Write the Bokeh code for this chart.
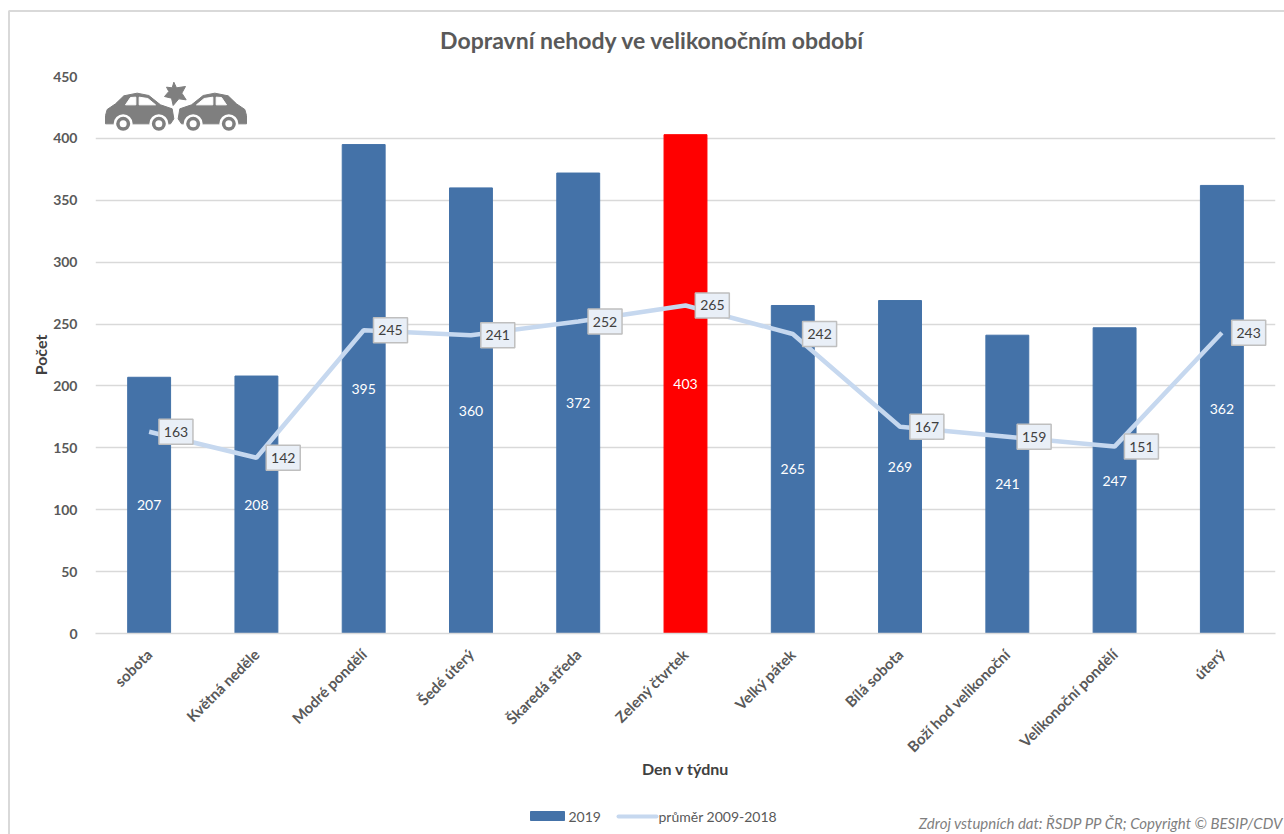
from bokeh.plotting import figure
from bokeh.embed import file_html
from bokeh.resources import INLINE
from bokeh.core.properties import value
from bokeh.models import ColumnDataSource, Range1d

days = ["sobota", "Květná neděle", "Modré pondělí", "Šedé úterý", "Škaredá středa", "Zelený čtvrtek",
        "Velký pátek", "Bílá sobota", "Boží hod velikonoční", "Velikonoční pondělí", "úterý"]
counts_2019 = [207, 208, 395, 360, 372, 403, 265, 269, 241, 247, 362]
average_2009_2018 = [163, 142, 245, 241, 252, 265, 242, 167, 159, 151, 243]
y_ticks = [0, 50, 100, 150, 200, 250, 300, 350, 400, 450]
highlight_day = "Zelený čtvrtek"

FONT = "Lato"
BLUE = "#4472A8"
RED = "#FF0000"
LINE = "#C6D8EF"
GREY = "#D9D9D9"
TEXT = "#595959"
ICON = "#7F7F7F"

positions = [i + 0.5 for i in range(len(days))]

p = figure(width=1284, height=834, output_backend="svg", toolbar_location=None,
           x_range=Range1d(0, len(days)), y_range=Range1d(0, 450),
           min_border_left=95, min_border_right=9, min_border_top=76, min_border_bottom=201)
p.extra_x_ranges["px"] = Range1d(95, 1275)
p.extra_y_ranges["px"] = Range1d(633, 76)
p.outline_line_color = None

src = ColumnDataSource(dict(
    x=positions, box_x=[x + 0.25 for x in positions], count=counts_2019, avg=average_2009_2018,
    mid=[v / 2 for v in counts_2019],
    color=[RED if d == highlight_day else BLUE for d in days],
    count_txt=[str(v) for v in counts_2019], avg_txt=[str(v) for v in average_2009_2018]))

# axes and grid
p.xgrid.grid_line_color = None
p.ygrid.grid_line_color = GREY
p.ygrid.grid_line_width = 1.5
p.yaxis.ticker = y_ticks
p.yaxis.axis_line_color = None
p.yaxis.major_tick_line_color = None
p.yaxis.minor_tick_line_color = None
p.yaxis.major_label_standoff = 12
p.yaxis.axis_label = "Počet"
p.yaxis.axis_label_standoff = 0
p.xaxis.ticker = positions
p.xaxis.major_label_overrides = dict(zip(positions, days))
p.xaxis.axis_line_color = GREY
p.xaxis.axis_line_width = 1.5
p.xaxis.major_tick_line_color = None
p.xaxis.minor_tick_line_color = None
p.xaxis.major_label_orientation = 0.785
p.xaxis.major_label_standoff = 12
p.xaxis.axis_label = "Den v týdnu"
p.xaxis.axis_label_standoff = -6
for ax in (p.xaxis, p.yaxis):
    ax.major_label_text_font = FONT
    ax.major_label_text_font_style = "bold"
    ax.major_label_text_font_size = "15px"
    ax.major_label_text_color = TEXT
    ax.axis_label_text_font = FONT
    ax.axis_label_text_font_style = "bold"
    ax.axis_label_text_font_size = "16px"
    ax.axis_label_text_color = "#404040"
p.yaxis.major_label_text_font_size = "14px"

# bars, line, labels
bars = p.vbar(x="x", top="count", width=0.4, color="color", source=src)
avg_line = p.line(x="x", y="avg", line_color=LINE, line_width=4.5, source=src)
p.text(x="x", y="mid", text="count_txt", text_color="white", text_align="center", text_baseline="middle",
       text_font=value(FONT), text_font_size="14px", source=src)
p.rect(x="box_x", y="avg", width=34, height=25, width_units="screen", height_units="screen",
       fill_color="#E9EFF7", line_color="#BFBFBF", line_width=1.5, source=src)
p.text(x="box_x", y="avg", text="avg_txt", text_color="#404040", text_align="center", text_baseline="middle",
       text_font=value(FONT), text_font_size="14px", source=src)

# crash icon, in page pixels
def ix(z):
    return 90 + z / 3
def iy(z):
    return 60 + z / 3
body = [(45, 165), (50, 147), (75, 130), (100, 106), (140, 98), (175, 105), (210, 133), (245, 145), (250, 175), (240, 190), (45, 190)]
win_a = [(105, 133), (120, 111), (136, 110), (136, 133)]
win_b = [(146, 110), (172, 114), (195, 133), (146, 133)]
star = [(250, 65), (258, 82), (285, 78), (274, 98), (287, 118), (265, 115), (248, 135), (243, 113), (222, 108), (235, 93), (228, 80), (245, 82)]
wheels = [98, 205]
def mirror(points):
    return [(513 - a, b) for a, b in points]
for poly, col in [(body, ICON), (win_a, "white"), (win_b, "white")]:
    for shape in (poly, mirror(poly)):
        p.patch([ix(a) for a, _ in shape], [iy(b) for _, b in shape], color=col,
                x_range_name="px", y_range_name="px")
p.patch([ix(a) for a, _ in star], [iy(b) for _, b in star], color=ICON, x_range_name="px", y_range_name="px")
wx = [ix(z) for z in wheels + [513 - z for z in wheels]]
wy = [iy(190)] * 4
for size, col in [(19, "white"), (14, ICON), (7, "white")]:
    p.scatter(wx, wy, size=size, color=col, line_color=None, x_range_name="px", y_range_name="px")

# chart frame, drawn above the plot area so that it is not clipped to it
p.line([8.5, 8.5, 1284], [834, 10.5, 10.5], line_color=GREY, line_width=2, level="overlay",
       x_range_name="px", y_range_name="px")

# page texts outside the plot area, in page pixels on the overlay level
def page_text(x, y, text, size, color, align="left", style="normal"):
    p.text([x], [y], text=[text], text_font=value(FONT), text_font_size=size, text_color=color,
           text_font_style=style, text_align=align, text_baseline="middle", level="overlay",
           x_range_name="px", y_range_name="px")

page_text(652, 39, "Dopravní nehody ve velikonočním období", "23px", TEXT, "center", "bold")
page_text(1283, 822, "Zdroj vstupních dat: ŘSDP PP ČR; Copyright © BESIP/CDV", "15px", "#7F7F7F", "right", "italic")

# legend
p.quad(left=[530], right=[564], top=[811], bottom=[820], color=BLUE, level="overlay", x_range_name="px", y_range_name="px")
p.line([618, 656], [816, 816], line_color=LINE, line_width=4, line_cap="round", level="overlay", x_range_name="px", y_range_name="px")
page_text(568, 816, "2019", "14px", TEXT)
page_text(658, 816, "průměr 2009-2018", "14px", TEXT)

open("out.html", "w").write(file_html(p, INLINE))
